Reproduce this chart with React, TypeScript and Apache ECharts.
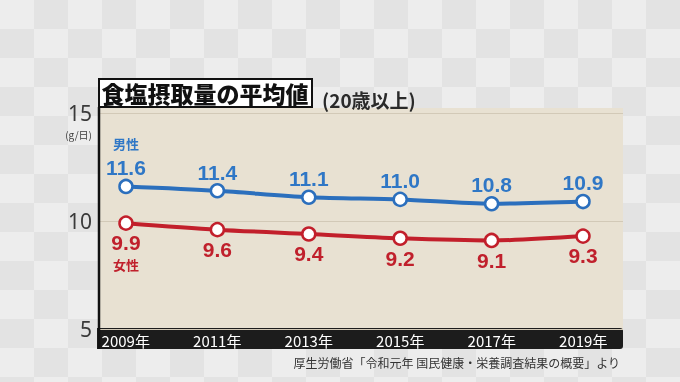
import React, { useEffect, useRef } from "react";
import * as echarts from "echarts";

const years = [2009, 2011, 2013, 2015, 2017, 2019];
const yearLabels = years.map((y) => `${y}年`);
const male = [11.6, 11.4, 11.1, 11.0, 10.8, 10.9];
const female = [9.9, 9.6, 9.4, 9.2, 9.1, 9.3];
const yTicks = [5, 10, 15];

const BLUE = "#2b6fbd";
const RED = "#c21f2b";
const JP = '"Noto Sans CJK JP", "Noto Sans", sans-serif';
const NUM = '"Liberation Sans", Arial, sans-serif';

export default function App() {
  const ref = useRef<HTMLDivElement>(null);
  useEffect(() => {
    if (!ref.current) return;
    const chart = echarts.init(ref.current, null, { renderer: "svg" });
    const fmt = (p: any) => Number(p.value[1]).toFixed(1);
    const maleData = male.map((v, i) =>
      i === 0
        ? {
            value: [years[i], v],
            label: { formatter: (p: any) => `{s|男性}\n{v|${fmt(p)}}` },
          }
        : [years[i], v]
    );
    const femaleData = female.map((v, i) =>
      i === 0
        ? {
            value: [years[i], v],
            label: { formatter: (p: any) => `{v|${fmt(p)}}\n{s|女性}` },
          }
        : [years[i], v]
    );
    chart.setOption({
      animation: false,
      backgroundColor: "transparent",
      grid: [
        {
          left: 99,
          right: 57,
          top: 113,
          bottom: 53,
          show: false,
        },
        { left: 80, right: 51, top: 113, bottom: 53, show: false },
      ],
      xAxis: [
        {
          type: "value",
          gridIndex: 0,
          min: 2008.41,
          max: 2019.875,
          show: false,
        },
        {
          type: "category",
          gridIndex: 1,
          data: yearLabels,
          boundaryGap: true,
          axisLine: { show: false },
          axisTick: { show: false },
          axisLabel: {
            color: "#ffffff",
            fontFamily: JP,
            fontSize: 15,
            margin: 4,
          },
        },
      ],
      yAxis: [
        {
          type: "value",
          gridIndex: 0,
          min: 5,
          max: 15,
          interval: 5,
          axisLine: { show: false },
          axisTick: { show: false },
          splitLine: { show: true, lineStyle: { color: "#d2c9b7", width: 1 } },
          axisLabel: {
            margin: 7,
            fontFamily: '"Noto Sans", sans-serif',
            fontSize: 21,
            color: "#3a3a3a",
            formatter: (v: number) => (yTicks.includes(v) ? String(v) : ""),
          },
        },
        {
          type: "value",
          gridIndex: 1,
          min: 5,
          max: 15,
          show: false,
        },
      ],
      series: [
        {
          type: "line",
          xAxisIndex: 0,
          yAxisIndex: 0,
          data: maleData,
          smooth: 0.3,
          symbol: "circle",
          symbolSize: 13,
          lineStyle: { color: BLUE, width: 4 },
          itemStyle: { color: "#ffffff", borderColor: BLUE, borderWidth: 2.5 },
          z: 3,
          label: {
            show: true,
            position: "top",
            distance: 0,
            formatter: (p: any) => `{v|${fmt(p)}}`,
            rich: {
              v: {
                fontFamily: NUM,
                fontWeight: "bold",
                fontSize: 21,
                color: "#2f77c6",
                lineHeight: 22,
              },
              s: {
                fontFamily: JP,
                fontWeight: "bold",
                fontSize: 13,
                color: "#2f77c6",
                lineHeight: 26,
              },
            },
          },
        },
        {
          type: "line",
          xAxisIndex: 0,
          yAxisIndex: 0,
          data: femaleData,
          smooth: 0.3,
          symbol: "circle",
          symbolSize: 13,
          lineStyle: { color: RED, width: 4 },
          itemStyle: { color: "#ffffff", borderColor: RED, borderWidth: 2.5 },
          z: 3,
          label: {
            show: true,
            position: "bottom",
            distance: 1,
            formatter: (p: any) => `{v|${fmt(p)}}`,
            rich: {
              v: {
                fontFamily: NUM,
                fontWeight: "bold",
                fontSize: 21,
                color: "#c0202c",
                lineHeight: 22,
              },
              s: {
                fontFamily: JP,
                fontWeight: "bold",
                fontSize: 13,
                color: "#c0202c",
                lineHeight: 22,
              },
            },
          },
        },
      ],
      graphic: [
        {
          type: "rect",
          z: -10,
          shape: { x: 99, y: 108, width: 524, height: 221 },
          style: { fill: "#e8e1d2" },
        },
        {
          type: "rect",
          z: -9,
          shape: { x: 97, y: 328, width: 526, height: 21, r: [0, 3, 3, 0] },
          style: { fill: "#1c1c1c" },
        },
        {
          type: "line",
          z: 10,
          shape: { x1: 99, y1: 107, x2: 99, y2: 349 },
          style: { stroke: "#111111", lineWidth: 2.5 },
        },
        {
          type: "rect",
          z: 10,
          shape: { x: 99, y: 79, width: 213, height: 28 },
          style: { fill: "#ffffff", stroke: "#111111", lineWidth: 2 },
        },
        {
          type: "text",
          z: 11,
          x: 205,
          y: 93,
          style: {
            text: "食塩摂取量の平均値",
            fontFamily: JP,
            fontWeight: 900,
            fontSize: 23,
            fill: "#111111",
            textAlign: "center",
            textVerticalAlign: "middle",
          },
        },
        {
          type: "text",
          z: 11,
          x: 322,
          y: 99,
          style: {
            text: "(20歳以上)",
            fontFamily: JP,
            fontWeight: "bold",
            fontSize: 19,
            fill: "#2a2a2a",
            textAlign: "left",
            textVerticalAlign: "middle",
          },
        },
        {
          type: "text",
          z: 11,
          x: 92,
          y: 134,
          style: {
            text: "(g/日)",
            fontFamily: JP,
            fontSize: 10,
            fill: "#3a3a3a",
            textAlign: "right",
            textVerticalAlign: "middle",
          },
        },
        {
          type: "text",
          z: 11,
          x: 620,
          y: 362,
          style: {
            text: "厚生労働省「令和元年 国民健康・栄養調査結果の概要」より",
            fontFamily: JP,
            fontSize: 12,
            fill: "#333333",
            textAlign: "right",
            textVerticalAlign: "middle",
          },
        },
      ],
    });
    return () => chart.dispose();
  }, []);
  return (
    <div
      style={{
        position: "fixed",
        left: 0,
        top: 0,
        width: 680,
        height: 382,
        background:
          "repeating-conic-gradient(#e3e3e3 0% 25%, #ededed 0% 50%) 0 0 / 68px 58px",
      }}
    >
      <div ref={ref} style={{ width: 680, height: 382 }} />
    </div>
  );
}
